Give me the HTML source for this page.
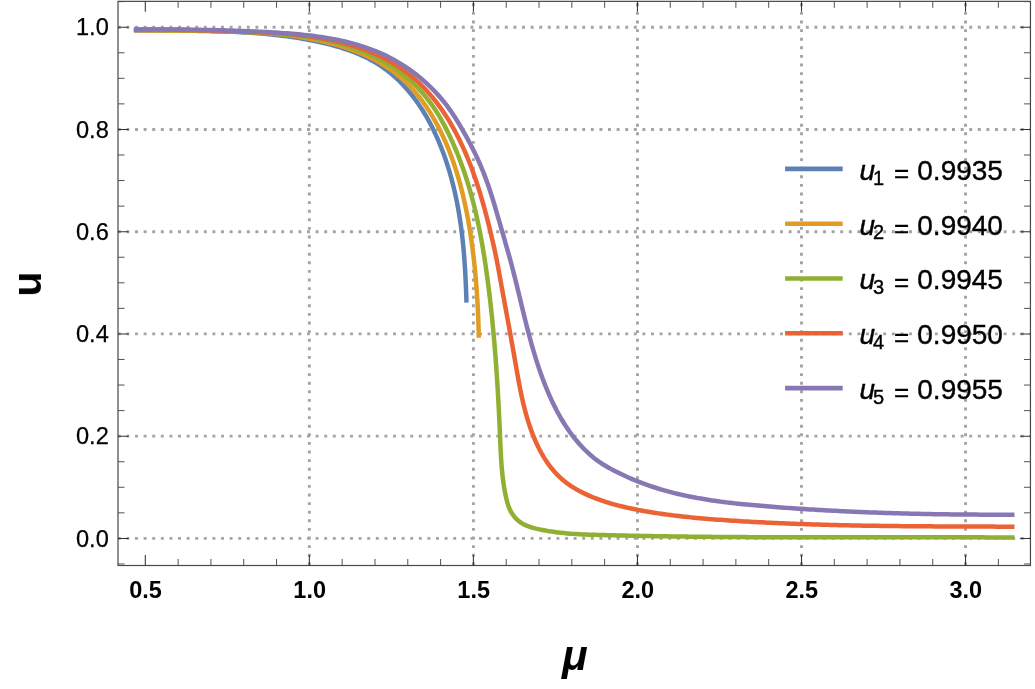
<!DOCTYPE html>
<html><head><meta charset="utf-8"><title>u vs mu</title>
<style>html,body{margin:0;padding:0;background:#fff;}body{width:1035px;height:689px;overflow:hidden;font-family:"Liberation Sans",sans-serif;}svg{display:block;}</style>
</head><body>
<svg width="1035" height="689" viewBox="0 0 1035 689">
<rect width="1035" height="689" fill="#fff"/>
<path d="M309.35,565.10V1.35M473.40,565.10V1.35M637.45,565.10V1.35M801.50,565.10V1.35M965.55,565.10V1.35M118.00,538.40H1030.45M118.00,436.16H1030.45M118.00,333.92H1030.45M118.00,231.68H1030.45M118.00,129.44H1030.45M118.00,27.20H1030.45" fill="none" stroke="#a4a4a4" stroke-width="2.9" stroke-dasharray="2.9 5.7" stroke-dashoffset="0.15"/>
<path d="M133.90,30.35 L137.35,30.40 L140.80,30.44 L144.25,30.48 L147.69,30.52 L151.14,30.54 L154.59,30.57 L158.04,30.59 L161.49,30.61 L164.94,30.63 L168.38,30.65 L171.83,30.67 L175.28,30.69 L178.73,30.71 L182.17,30.73 L185.62,30.76 L189.07,30.79 L192.51,30.82 L195.96,30.86 L199.40,30.91 L202.85,30.96 L206.29,31.02 L209.74,31.09 L213.18,31.16 L216.62,31.25 L220.06,31.35 L223.50,31.45 L226.94,31.57 L230.38,31.71 L233.82,31.85 L237.26,32.01 L240.69,32.19 L244.13,32.38 L247.56,32.58 L251.00,32.81 L254.43,33.05 L257.86,33.31 L261.29,33.59 L264.72,33.88 L268.15,34.20 L271.58,34.55 L275.00,34.91 L278.43,35.29 L281.85,35.70 L285.27,36.14 L288.70,36.60 L292.11,37.08 L295.53,37.60 L298.95,38.14 L302.36,38.70 L305.78,39.30 L309.19,39.93 L312.60,40.58 L316.01,41.27 L319.41,41.99 L322.80,42.76 L326.18,43.56 L329.55,44.40 L332.91,45.28 L336.25,46.22 L339.57,47.20 L342.87,48.23 L346.14,49.31 L349.40,50.45 L352.62,51.65 L355.82,52.91 L358.98,54.23 L362.11,55.62 L365.20,57.07 L368.26,58.59 L371.27,60.19 L374.24,61.85 L377.17,63.60 L380.05,65.42 L382.88,67.32 L385.66,69.31 L388.39,71.38 L391.06,73.54 L393.68,75.78 L396.24,78.09 L398.74,80.47 L401.19,82.92 L403.57,85.42 L405.89,87.98 L408.16,90.58 L410.36,93.23 L412.51,95.93 L414.60,98.67 L416.64,101.45 L418.62,104.27 L420.54,107.13 L422.41,110.03 L424.23,112.96 L426.00,115.93 L427.71,118.93 L429.38,121.96 L430.99,125.02 L432.56,128.10 L434.08,131.21 L435.55,134.35 L436.98,137.50 L438.36,140.68 L439.70,143.87 L441.00,147.08 L442.25,150.31 L443.46,153.55 L444.63,156.80 L445.76,160.07 L446.86,163.34 L447.91,166.62 L448.93,169.91 L449.91,173.20 L450.85,176.51 L451.76,179.82 L452.63,183.14 L453.47,186.47 L454.27,189.81 L455.04,193.15 L455.78,196.50 L456.49,199.86 L457.16,203.23 L457.80,206.61 L458.42,209.99 L459.00,213.38 L459.55,216.77 L460.08,220.17 L460.58,223.58 L461.05,227.00 L461.50,230.41 L461.92,233.84 L462.32,237.27 L462.70,240.70 L463.05,244.13 L463.38,247.57 L463.69,251.01 L463.99,254.45 L464.26,257.90 L464.52,261.34 L464.75,264.79 L464.98,268.24 L465.18,271.69 L465.38,275.13 L465.56,278.58 L465.72,282.03 L465.88,285.47 L466.02,288.91 L466.15,292.35 L466.28,295.79 L466.39,299.22 L466.50,302.65" fill="none" stroke="#5e81b5" stroke-width="4.5" stroke-linejoin="round"/>
<path d="M133.90,30.09 L137.62,30.20 L141.34,30.29 L145.06,30.37 L148.79,30.44 L152.51,30.50 L156.23,30.55 L159.96,30.59 L163.68,30.62 L167.41,30.64 L171.13,30.66 L174.86,30.68 L178.59,30.70 L182.31,30.71 L186.04,30.72 L189.76,30.73 L193.49,30.75 L197.22,30.77 L200.94,30.79 L204.67,30.82 L208.39,30.85 L212.12,30.89 L215.84,30.94 L219.57,31.01 L223.29,31.08 L227.01,31.16 L230.74,31.26 L234.46,31.37 L238.18,31.50 L241.90,31.65 L245.62,31.81 L249.34,31.99 L253.05,32.19 L256.77,32.42 L260.49,32.67 L264.20,32.94 L267.91,33.23 L271.63,33.55 L275.34,33.90 L279.05,34.28 L282.75,34.69 L286.46,35.13 L290.17,35.60 L293.87,36.10 L297.57,36.64 L301.27,37.21 L304.97,37.82 L308.67,38.47 L312.36,39.15 L316.05,39.88 L319.74,40.65 L323.41,41.46 L327.08,42.32 L330.73,43.23 L334.36,44.19 L337.98,45.20 L341.58,46.27 L345.15,47.39 L348.70,48.58 L352.22,49.82 L355.71,51.12 L359.17,52.49 L362.60,53.93 L365.98,55.43 L369.33,57.01 L372.63,58.66 L375.89,60.38 L379.11,62.18 L382.27,64.05 L385.38,66.01 L388.44,68.05 L391.44,70.17 L394.38,72.38 L397.27,74.66 L400.09,77.03 L402.85,79.47 L405.55,81.98 L408.18,84.57 L410.74,87.22 L413.24,89.95 L415.67,92.73 L418.04,95.58 L420.34,98.49 L422.58,101.46 L424.76,104.48 L426.87,107.55 L428.93,110.67 L430.92,113.84 L432.86,117.05 L434.74,120.30 L436.56,123.59 L438.33,126.92 L440.04,130.28 L441.70,133.67 L443.30,137.09 L444.86,140.53 L446.36,144.00 L447.81,147.48 L449.21,150.98 L450.57,154.50 L451.88,158.03 L453.14,161.57 L454.36,165.12 L455.53,168.67 L456.66,172.23 L457.75,175.80 L458.79,179.38 L459.80,182.96 L460.77,186.56 L461.71,190.15 L462.60,193.76 L463.47,197.37 L464.29,200.98 L465.09,204.61 L465.86,208.24 L466.59,211.87 L467.30,215.51 L467.98,219.16 L468.63,222.81 L469.26,226.47 L469.86,230.13 L470.44,233.80 L470.99,237.48 L471.53,241.15 L472.04,244.84 L472.53,248.52 L473.01,252.21 L473.46,255.91 L473.88,259.61 L474.29,263.31 L474.68,267.01 L475.05,270.72 L475.41,274.43 L475.74,278.14 L476.05,281.86 L476.35,285.57 L476.63,289.29 L476.89,293.01 L477.13,296.73 L477.36,300.46 L477.57,304.18 L477.77,307.90 L477.95,311.63 L478.12,315.36 L478.26,319.08 L478.40,322.81 L478.52,326.53 L478.63,330.25 L478.72,333.98 L478.80,337.70" fill="none" stroke="#e19c24" stroke-width="4.5" stroke-linejoin="round"/>
<path d="M133.90,29.90 L137.05,29.86 L140.20,29.83 L143.34,29.81 L146.48,29.80 L149.62,29.79 L152.75,29.79 L155.88,29.80 L159.01,29.82 L162.14,29.85 L165.26,29.88 L168.38,29.91 L171.50,29.95 L174.61,30.00 L177.73,30.06 L180.85,30.12 L183.96,30.18 L187.07,30.25 L190.19,30.32 L193.30,30.40 L196.41,30.48 L199.53,30.56 L202.64,30.65 L205.76,30.74 L208.87,30.83 L211.99,30.93 L215.11,31.03 L218.23,31.13 L221.36,31.23 L224.48,31.33 L227.61,31.43 L230.74,31.54 L233.88,31.64 L237.02,31.75 L240.16,31.86 L243.30,31.97 L246.44,32.09 L249.58,32.22 L252.73,32.35 L255.87,32.49 L259.02,32.64 L262.16,32.81 L265.31,32.98 L268.45,33.17 L271.59,33.37 L274.73,33.59 L277.87,33.83 L281.00,34.08 L284.13,34.35 L287.26,34.64 L290.39,34.95 L293.51,35.29 L296.62,35.64 L299.73,36.03 L302.84,36.44 L305.94,36.87 L309.03,37.33 L312.12,37.82 L315.20,38.35 L318.27,38.90 L321.33,39.48 L324.39,40.10 L327.44,40.76 L330.48,41.44 L333.51,42.17 L336.53,42.93 L339.54,43.74 L342.54,44.58 L345.53,45.47 L348.51,46.39 L351.48,47.36 L354.44,48.38 L357.38,49.44 L360.30,50.55 L363.21,51.70 L366.10,52.90 L368.97,54.15 L371.82,55.44 L374.65,56.79 L377.45,58.19 L380.22,59.63 L382.97,61.13 L385.68,62.68 L388.37,64.28 L391.02,65.94 L393.64,67.65 L396.22,69.42 L398.76,71.24 L401.27,73.11 L403.74,75.05 L406.16,77.04 L408.54,79.08 L410.88,81.17 L413.18,83.31 L415.43,85.50 L417.64,87.74 L419.79,90.03 L421.90,92.36 L423.97,94.74 L425.98,97.16 L427.94,99.61 L429.85,102.11 L431.71,104.65 L433.52,107.22 L435.27,109.83 L436.97,112.48 L438.61,115.15 L440.21,117.86 L441.76,120.59 L443.27,123.34 L444.74,126.11 L446.18,128.90 L447.58,131.70 L448.95,134.51 L450.30,137.33 L451.61,140.17 L452.90,143.01 L454.15,145.87 L455.38,148.74 L456.58,151.62 L457.75,154.51 L458.89,157.41 L460.01,160.32 L461.10,163.24 L462.17,166.16 L463.21,169.10 L464.23,172.05 L465.22,175.00 L466.18,177.97 L467.13,180.94 L468.05,183.92 L468.95,186.90 L469.82,189.90 L470.67,192.90 L471.51,195.91 L472.32,198.93 L473.11,201.95 L473.88,204.98 L474.63,208.01 L475.36,211.05 L476.08,214.10 L476.77,217.15 L477.45,220.21 L478.11,223.27 L478.75,226.34 L479.37,229.41 L479.98,232.48 L480.58,235.56 L481.16,238.65 L481.72,241.73 L482.27,244.82 L482.80,247.91 L483.32,251.01 L483.83,254.11 L484.33,257.21 L484.81,260.31 L485.28,263.41 L485.74,266.52 L486.19,269.63 L486.63,272.74 L487.06,275.84 L487.48,278.95 L487.89,282.06 L488.29,285.17 L488.69,288.28 L489.07,291.40 L489.45,294.51 L489.82,297.62 L490.18,300.73 L490.53,303.83 L490.88,306.94 L491.22,310.05 L491.55,313.16 L491.87,316.27 L492.19,319.38 L492.50,322.49 L492.80,325.61 L493.10,328.72 L493.39,331.83 L493.67,334.94 L493.95,338.05 L494.22,341.16 L494.49,344.27 L494.75,347.38 L495.00,350.50 L495.25,353.61 L495.49,356.72 L495.72,359.84 L495.95,362.95 L496.18,366.07 L496.40,369.18 L496.61,372.30 L496.82,375.41 L497.03,378.53 L497.22,381.65 L497.42,384.77 L497.61,387.89 L497.80,391.01 L497.98,394.13 L498.15,397.25 L498.33,400.37 L498.49,403.49 L498.66,406.62 L498.82,409.74 L498.98,412.87 L499.13,415.99 L499.28,419.12 L499.43,422.25 L499.57,425.38 L499.71,428.51 L499.85,431.64 L499.98,434.78 L500.11,437.91 L500.24,441.04 L500.37,444.18 L500.51,447.31 L500.66,450.45 L500.82,453.58 L500.99,456.71 L501.18,459.84 L501.39,462.97 L501.63,466.09 L501.89,469.21 L502.18,472.33 L502.51,475.44 L502.87,478.54 L503.27,481.64 L503.72,484.74 L504.21,487.82 L504.75,490.90 L505.35,493.97 L506.00,497.04 L506.71,500.09 L507.51,503.11 L508.46,506.09 L509.59,508.98 L510.95,511.77 L512.60,514.44 L514.52,516.94 L516.68,519.24 L519.06,521.32 L521.62,523.14 L524.34,524.67 L527.18,525.93 L530.12,526.98 L533.13,527.87 L536.18,528.64 L539.24,529.34 L542.31,529.98 L545.38,530.57 L548.46,531.10 L551.55,531.59 L554.64,532.03 L557.74,532.43 L560.84,532.79 L563.95,533.11 L567.06,533.40 L570.17,533.65 L573.29,533.88 L576.41,534.07 L579.53,534.25 L582.66,534.40 L585.78,534.54 L588.91,534.65 L592.04,534.76 L595.17,534.85 L598.30,534.94 L601.43,535.02 L604.57,535.10 L607.70,535.18 L610.83,535.26 L613.96,535.33 L617.09,535.40 L620.22,535.47 L623.35,535.54 L626.48,535.61 L629.61,535.68 L632.74,535.74 L635.87,535.80 L639.00,535.86 L642.13,535.92 L645.27,535.98 L648.40,536.04 L651.53,536.09 L654.66,536.15 L657.79,536.20 L660.92,536.25 L664.05,536.30 L667.18,536.34 L670.31,536.39 L673.43,536.43 L676.56,536.48 L679.69,536.52 L682.82,536.56 L685.95,536.60 L689.08,536.63 L692.21,536.67 L695.34,536.71 L698.47,536.74 L701.60,536.77 L704.73,536.80 L707.86,536.83 L710.99,536.86 L714.12,536.89 L717.24,536.92 L720.37,536.94 L723.50,536.97 L726.63,536.99 L729.76,537.02 L732.89,537.04 L736.02,537.06 L739.15,537.08 L742.27,537.10 L745.40,537.12 L748.53,537.13 L751.66,537.15 L754.79,537.16 L757.92,537.18 L761.05,537.19 L764.17,537.21 L767.30,537.22 L770.43,537.23 L773.56,537.24 L776.69,537.25 L779.82,537.26 L782.94,537.27 L786.07,537.27 L789.20,537.28 L792.33,537.29 L795.46,537.29 L798.59,537.30 L801.71,537.31 L804.84,537.31 L807.97,537.31 L811.10,537.32 L814.23,537.32 L817.36,537.32 L820.48,537.33 L823.61,537.33 L826.74,537.33 L829.87,537.33 L833.00,537.33 L836.13,537.33 L839.25,537.33 L842.38,537.33 L845.51,537.33 L848.64,537.33 L851.77,537.33 L854.90,537.33 L858.02,537.33 L861.15,537.32 L864.28,537.32 L867.41,537.32 L870.54,537.32 L873.67,537.32 L876.80,537.32 L879.92,537.31 L883.05,537.31 L886.18,537.31 L889.31,537.31 L892.44,537.31 L895.57,537.30 L898.70,537.30 L901.83,537.30 L904.95,537.30 L908.08,537.30 L911.21,537.30 L914.34,537.30 L917.47,537.30 L920.60,537.30 L923.73,537.30 L926.86,537.30 L929.99,537.30 L933.12,537.30 L936.25,537.30 L939.37,537.30 L942.50,537.30 L945.63,537.30 L948.76,537.31 L951.89,537.31 L955.02,537.31 L958.15,537.32 L961.28,537.32 L964.41,537.33 L967.54,537.33 L970.67,537.34 L973.80,537.35 L976.93,537.35 L980.06,537.36 L983.19,537.37 L986.32,537.38 L989.45,537.39 L992.58,537.40 L995.71,537.41 L998.85,537.43 L1001.98,537.44 L1005.11,537.45 L1008.24,537.47 L1011.37,537.48 L1014.50,537.50" fill="none" stroke="#8fb032" stroke-width="4.5" stroke-linejoin="round"/>
<path d="M133.90,29.65 L136.89,29.62 L139.87,29.59 L142.85,29.57 L145.83,29.56 L148.81,29.55 L151.79,29.55 L154.76,29.56 L157.73,29.58 L160.70,29.60 L163.66,29.62 L166.63,29.65 L169.59,29.69 L172.56,29.73 L175.52,29.78 L178.48,29.83 L181.44,29.88 L184.40,29.94 L187.36,30.01 L190.32,30.07 L193.28,30.14 L196.24,30.21 L199.19,30.29 L202.15,30.37 L205.12,30.45 L208.08,30.53 L211.04,30.61 L214.00,30.70 L216.97,30.78 L219.93,30.87 L222.90,30.96 L225.87,31.05 L228.84,31.14 L231.82,31.23 L234.79,31.31 L237.77,31.41 L240.75,31.50 L243.73,31.59 L246.71,31.69 L249.69,31.80 L252.68,31.91 L255.66,32.03 L258.64,32.15 L261.62,32.29 L264.61,32.43 L267.59,32.59 L270.57,32.75 L273.55,32.93 L276.52,33.12 L279.50,33.33 L282.47,33.55 L285.44,33.78 L288.41,34.03 L291.38,34.30 L294.34,34.59 L297.30,34.90 L300.25,35.23 L303.20,35.58 L306.15,35.95 L309.09,36.34 L312.03,36.76 L314.96,37.21 L317.89,37.68 L320.82,38.17 L323.73,38.69 L326.64,39.25 L329.55,39.83 L332.45,40.44 L335.34,41.08 L338.22,41.76 L341.10,42.46 L343.97,43.21 L346.83,43.98 L349.69,44.80 L352.53,45.64 L355.37,46.53 L358.20,47.45 L361.01,48.42 L363.81,49.42 L366.59,50.47 L369.36,51.55 L372.11,52.68 L374.84,53.86 L377.55,55.07 L380.24,56.34 L382.90,57.65 L385.54,59.00 L388.16,60.41 L390.74,61.86 L393.30,63.36 L395.83,64.92 L398.32,66.52 L400.78,68.18 L403.21,69.89 L405.60,71.65 L407.96,73.46 L410.28,75.32 L412.57,77.23 L414.82,79.18 L417.03,81.17 L419.21,83.21 L421.35,85.29 L423.46,87.41 L425.52,89.57 L427.55,91.76 L429.54,93.99 L431.49,96.25 L433.41,98.54 L435.28,100.87 L437.11,103.22 L438.91,105.61 L440.66,108.01 L442.37,110.45 L444.05,112.91 L445.68,115.39 L447.27,117.89 L448.83,120.41 L450.35,122.96 L451.84,125.52 L453.30,128.10 L454.72,130.70 L456.12,133.31 L457.48,135.94 L458.82,138.59 L460.13,141.25 L461.40,143.93 L462.66,146.61 L463.88,149.32 L465.08,152.03 L466.25,154.76 L467.40,157.50 L468.52,160.25 L469.62,163.01 L470.69,165.78 L471.75,168.56 L472.78,171.36 L473.78,174.16 L474.77,176.96 L475.74,179.78 L476.68,182.60 L477.61,185.43 L478.52,188.27 L479.41,191.11 L480.28,193.96 L481.13,196.81 L481.97,199.66 L482.80,202.52 L483.60,205.38 L484.40,208.25 L485.17,211.12 L485.94,213.98 L486.69,216.85 L487.43,219.73 L488.16,222.60 L488.88,225.48 L489.59,228.36 L490.29,231.24 L490.98,234.12 L491.67,237.01 L492.35,239.90 L493.01,242.79 L493.67,245.69 L494.31,248.59 L494.94,251.49 L495.56,254.40 L496.16,257.31 L496.75,260.22 L497.32,263.14 L497.88,266.06 L498.43,268.98 L498.97,271.91 L499.50,274.84 L500.03,277.76 L500.56,280.69 L501.09,283.61 L501.62,286.54 L502.15,289.46 L502.69,292.38 L503.22,295.30 L503.75,298.22 L504.29,301.14 L504.82,304.05 L505.36,306.97 L505.89,309.89 L506.43,312.81 L506.96,315.72 L507.50,318.64 L508.03,321.56 L508.56,324.47 L509.09,327.39 L509.62,330.31 L510.15,333.23 L510.68,336.15 L511.21,339.07 L511.74,341.99 L512.26,344.91 L512.78,347.84 L513.30,350.76 L513.82,353.69 L514.34,356.62 L514.85,359.55 L515.36,362.48 L515.87,365.42 L516.38,368.35 L516.90,371.29 L517.42,374.22 L517.94,377.16 L518.48,380.09 L519.02,383.02 L519.58,385.94 L520.15,388.87 L520.74,391.78 L521.35,394.70 L521.98,397.61 L522.62,400.51 L523.30,403.40 L524.00,406.29 L524.72,409.17 L525.48,412.05 L526.27,414.91 L527.09,417.76 L527.94,420.60 L528.84,423.44 L529.77,426.26 L530.74,429.07 L531.76,431.86 L532.82,434.64 L533.93,437.41 L535.09,440.16 L536.30,442.89 L537.56,445.60 L538.87,448.28 L540.24,450.93 L541.67,453.54 L543.15,456.12 L544.70,458.65 L546.31,461.14 L547.98,463.58 L549.72,465.96 L551.53,468.29 L553.41,470.55 L555.36,472.75 L557.38,474.88 L559.47,476.94 L561.65,478.93 L563.90,480.83 L566.22,482.65 L568.62,484.40 L571.08,486.06 L573.60,487.66 L576.17,489.18 L578.78,490.64 L581.44,492.04 L584.12,493.37 L586.83,494.64 L589.56,495.85 L592.30,497.02 L595.07,498.12 L597.85,499.18 L600.64,500.19 L603.46,501.16 L606.28,502.08 L609.12,502.95 L611.97,503.79 L614.83,504.59 L617.70,505.36 L620.58,506.09 L623.47,506.79 L626.37,507.46 L629.27,508.10 L632.18,508.72 L635.09,509.31 L638.01,509.89 L640.92,510.44 L643.85,510.97 L646.77,511.49 L649.70,511.99 L652.63,512.47 L655.56,512.94 L658.49,513.38 L661.43,513.82 L664.37,514.23 L667.31,514.63 L670.25,515.02 L673.20,515.39 L676.14,515.75 L679.09,516.10 L682.04,516.44 L684.99,516.76 L687.95,517.07 L690.90,517.37 L693.86,517.66 L696.81,517.93 L699.77,518.20 L702.73,518.46 L705.69,518.71 L708.65,518.96 L711.62,519.19 L714.58,519.42 L717.54,519.64 L720.50,519.85 L723.47,520.06 L726.43,520.27 L729.40,520.46 L732.36,520.66 L735.33,520.85 L738.29,521.03 L741.26,521.21 L744.23,521.39 L747.19,521.56 L750.16,521.73 L753.13,521.89 L756.09,522.05 L759.06,522.21 L762.03,522.36 L764.99,522.51 L767.96,522.66 L770.93,522.80 L773.90,522.94 L776.86,523.07 L779.83,523.20 L782.80,523.33 L785.77,523.45 L788.74,523.57 L791.70,523.69 L794.67,523.80 L797.64,523.91 L800.61,524.02 L803.58,524.12 L806.55,524.22 L809.52,524.32 L812.49,524.42 L815.46,524.51 L818.43,524.60 L821.40,524.68 L824.37,524.77 L827.34,524.85 L830.31,524.93 L833.28,525.00 L836.25,525.08 L839.22,525.15 L842.19,525.21 L845.16,525.28 L848.13,525.34 L851.10,525.40 L854.07,525.46 L857.04,525.52 L860.01,525.57 L862.98,525.63 L865.95,525.68 L868.92,525.72 L871.89,525.77 L874.87,525.81 L877.84,525.86 L880.81,525.90 L883.78,525.94 L886.75,525.97 L889.72,526.01 L892.69,526.04 L895.66,526.07 L898.64,526.11 L901.61,526.13 L904.58,526.16 L907.55,526.19 L910.52,526.22 L913.49,526.24 L916.46,526.26 L919.44,526.28 L922.41,526.31 L925.38,526.33 L928.35,526.34 L931.32,526.36 L934.29,526.38 L937.26,526.40 L940.23,526.41 L943.21,526.43 L946.18,526.44 L949.15,526.45 L952.12,526.47 L955.09,526.48 L958.06,526.49 L961.03,526.50 L964.00,526.51 L966.97,526.52 L969.95,526.54 L972.92,526.55 L975.89,526.56 L978.86,526.57 L981.83,526.58 L984.80,526.59 L987.77,526.60 L990.74,526.61 L993.71,526.62 L996.68,526.63 L999.65,526.64 L1002.62,526.65 L1005.59,526.66 L1008.56,526.67 L1011.53,526.69 L1014.50,526.70" fill="none" stroke="#eb6235" stroke-width="4.5" stroke-linejoin="round"/>
<path d="M133.90,29.40 L136.79,29.40 L139.67,29.41 L142.56,29.41 L145.44,29.42 L148.32,29.42 L151.21,29.43 L154.09,29.43 L156.98,29.44 L159.86,29.45 L162.75,29.46 L165.63,29.47 L168.51,29.49 L171.40,29.50 L174.28,29.52 L177.17,29.54 L180.05,29.57 L182.93,29.59 L185.82,29.62 L188.70,29.66 L191.59,29.69 L194.47,29.73 L197.36,29.78 L200.24,29.83 L203.13,29.88 L206.01,29.93 L208.89,29.99 L211.78,30.06 L214.66,30.13 L217.55,30.20 L220.43,30.27 L223.32,30.35 L226.20,30.44 L229.08,30.53 L231.97,30.62 L234.85,30.72 L237.73,30.82 L240.62,30.93 L243.50,31.04 L246.38,31.16 L249.26,31.28 L252.14,31.41 L255.03,31.54 L257.91,31.68 L260.79,31.82 L263.67,31.96 L266.55,32.12 L269.42,32.27 L272.30,32.43 L275.18,32.60 L278.06,32.78 L280.93,32.96 L283.81,33.16 L286.69,33.36 L289.56,33.58 L292.43,33.80 L295.31,34.05 L298.18,34.30 L301.05,34.58 L303.93,34.87 L306.80,35.17 L309.67,35.50 L312.54,35.85 L315.41,36.22 L318.28,36.61 L321.14,37.02 L324.00,37.46 L326.86,37.93 L329.71,38.41 L332.56,38.93 L335.40,39.47 L338.23,40.05 L341.06,40.65 L343.88,41.28 L346.69,41.95 L349.48,42.64 L352.27,43.37 L355.05,44.14 L357.82,44.94 L360.57,45.78 L363.31,46.65 L366.04,47.56 L368.75,48.52 L371.45,49.51 L374.13,50.54 L376.80,51.61 L379.45,52.73 L382.07,53.89 L384.69,55.10 L387.28,56.35 L389.85,57.65 L392.40,59.00 L394.93,60.39 L397.44,61.83 L399.92,63.31 L402.38,64.83 L404.81,66.40 L407.22,68.01 L409.60,69.67 L411.96,71.36 L414.28,73.10 L416.58,74.87 L418.85,76.68 L421.08,78.54 L423.28,80.42 L425.46,82.35 L427.59,84.31 L429.70,86.31 L431.76,88.34 L433.80,90.40 L435.79,92.50 L437.75,94.63 L439.67,96.79 L441.55,98.99 L443.39,101.21 L445.19,103.46 L446.94,105.74 L448.66,108.05 L450.33,110.39 L451.96,112.75 L453.54,115.14 L455.09,117.55 L456.61,119.98 L458.11,122.43 L459.58,124.89 L461.03,127.37 L462.47,129.86 L463.90,132.36 L465.32,134.88 L466.72,137.40 L468.11,139.94 L469.47,142.48 L470.82,145.04 L472.15,147.61 L473.46,150.19 L474.74,152.78 L476.00,155.39 L477.23,158.01 L478.43,160.63 L479.60,163.28 L480.74,165.93 L481.86,168.59 L482.94,171.27 L484.00,173.95 L485.04,176.65 L486.05,179.35 L487.03,182.06 L487.99,184.78 L488.94,187.51 L489.86,190.24 L490.76,192.98 L491.64,195.72 L492.51,198.47 L493.36,201.23 L494.20,203.98 L495.03,206.74 L495.84,209.51 L496.65,212.28 L497.45,215.05 L498.25,217.82 L499.05,220.59 L499.84,223.36 L500.63,226.13 L501.42,228.91 L502.21,231.68 L503.01,234.45 L503.81,237.22 L504.61,239.99 L505.41,242.76 L506.21,245.53 L507.01,248.30 L507.80,251.08 L508.58,253.85 L509.35,256.63 L510.12,259.41 L510.87,262.20 L511.62,264.98 L512.35,267.77 L513.07,270.56 L513.79,273.36 L514.50,276.16 L515.20,278.96 L515.90,281.76 L516.59,284.56 L517.27,287.36 L517.95,290.17 L518.63,292.97 L519.31,295.78 L519.99,298.58 L520.67,301.39 L521.34,304.19 L522.02,307.00 L522.70,309.80 L523.38,312.60 L524.07,315.41 L524.76,318.21 L525.46,321.00 L526.16,323.80 L526.87,326.60 L527.59,329.39 L528.32,332.18 L529.05,334.96 L529.80,337.75 L530.56,340.53 L531.33,343.30 L532.11,346.08 L532.90,348.85 L533.71,351.61 L534.54,354.37 L535.38,357.12 L536.23,359.87 L537.11,362.62 L538.00,365.36 L538.91,368.09 L539.84,370.81 L540.80,373.54 L541.77,376.25 L542.77,378.96 L543.79,381.66 L544.83,384.35 L545.90,387.03 L546.99,389.71 L548.11,392.38 L549.26,395.04 L550.44,397.68 L551.64,400.31 L552.88,402.93 L554.15,405.53 L555.44,408.12 L556.78,410.69 L558.14,413.23 L559.54,415.76 L560.98,418.26 L562.45,420.74 L563.96,423.20 L565.51,425.62 L567.09,428.02 L568.72,430.40 L570.39,432.74 L572.10,435.05 L573.85,437.33 L575.65,439.57 L577.49,441.78 L579.38,443.95 L581.31,446.08 L583.30,448.18 L585.33,450.23 L587.40,452.23 L589.53,454.18 L591.70,456.07 L593.92,457.91 L596.20,459.68 L598.52,461.38 L600.89,463.00 L603.31,464.55 L605.77,466.03 L608.26,467.46 L610.78,468.85 L613.32,470.21 L615.88,471.54 L618.46,472.83 L621.05,474.10 L623.66,475.34 L626.28,476.55 L628.93,477.73 L631.58,478.88 L634.25,480.00 L636.93,481.09 L639.62,482.16 L642.32,483.19 L645.03,484.19 L647.75,485.16 L650.48,486.10 L653.22,487.01 L655.96,487.90 L658.71,488.75 L661.47,489.58 L664.23,490.38 L667.00,491.15 L669.78,491.90 L672.56,492.62 L675.35,493.32 L678.15,493.99 L680.95,494.64 L683.75,495.27 L686.56,495.88 L689.38,496.46 L692.20,497.02 L695.02,497.56 L697.85,498.09 L700.69,498.59 L703.53,499.08 L706.37,499.54 L709.21,499.99 L712.06,500.43 L714.92,500.84 L717.77,501.25 L720.63,501.63 L723.49,502.01 L726.36,502.37 L729.22,502.71 L732.09,503.05 L734.96,503.37 L737.84,503.68 L740.71,503.98 L743.59,504.28 L746.47,504.56 L749.34,504.83 L752.22,505.10 L755.11,505.36 L757.99,505.61 L760.87,505.85 L763.75,506.09 L766.63,506.33 L769.51,506.56 L772.40,506.79 L775.28,507.01 L778.16,507.23 L781.04,507.44 L783.92,507.66 L786.80,507.87 L789.68,508.07 L792.56,508.27 L795.44,508.47 L798.32,508.66 L801.20,508.85 L804.08,509.04 L806.96,509.22 L809.84,509.40 L812.72,509.58 L815.60,509.75 L818.48,509.92 L821.36,510.08 L824.24,510.25 L827.12,510.41 L830.00,510.56 L832.88,510.71 L835.76,510.86 L838.63,511.01 L841.51,511.15 L844.39,511.29 L847.27,511.43 L850.15,511.56 L853.03,511.69 L855.91,511.82 L858.79,511.94 L861.67,512.06 L864.54,512.18 L867.42,512.29 L870.30,512.40 L873.18,512.51 L876.06,512.62 L878.94,512.72 L881.82,512.82 L884.70,512.91 L887.58,513.01 L890.46,513.10 L893.34,513.19 L896.22,513.27 L899.10,513.35 L901.98,513.43 L904.86,513.51 L907.74,513.59 L910.62,513.66 L913.50,513.73 L916.38,513.79 L919.26,513.86 L922.14,513.92 L925.03,513.98 L927.91,514.03 L930.79,514.09 L933.67,514.14 L936.55,514.18 L939.44,514.23 L942.32,514.27 L945.20,514.32 L948.09,514.35 L950.97,514.39 L953.85,514.43 L956.74,514.46 L959.62,514.49 L962.51,514.51 L965.39,514.54 L968.28,514.56 L971.16,514.58 L974.05,514.60 L976.94,514.62 L979.82,514.63 L982.71,514.65 L985.60,514.66 L988.49,514.66 L991.38,514.67 L994.27,514.67 L997.16,514.68 L1000.04,514.68 L1002.94,514.67 L1005.83,514.67 L1008.72,514.67 L1011.61,514.66 L1014.50,514.65" fill="none" stroke="#8778b3" stroke-width="4.5" stroke-linejoin="round"/>
<rect x="118.0" y="1.35" width="912.45" height="564.15" fill="none" stroke="#484848" stroke-width="1.2"/>
<path d="M145.30,565.5v-10.5M145.30,1.35v10.5M309.35,565.5v-10.5M309.35,1.35v10.5M473.40,565.5v-10.5M473.40,1.35v10.5M637.45,565.5v-10.5M637.45,1.35v10.5M801.50,565.5v-10.5M801.50,1.35v10.5M965.55,565.5v-10.5M965.55,1.35v10.5M118.0,538.40h10.5M1030.45,538.40h-10.5M118.0,436.16h10.5M1030.45,436.16h-10.5M118.0,333.92h10.5M1030.45,333.92h-10.5M118.0,231.68h10.5M1030.45,231.68h-10.5M118.0,129.44h10.5M1030.45,129.44h-10.5M118.0,27.20h10.5M1030.45,27.20h-10.5" fill="none" stroke="#333" stroke-width="1.05"/>
<path d="M178.11,565.5v-6.5M178.11,1.35v6.5M210.92,565.5v-6.5M210.92,1.35v6.5M243.73,565.5v-6.5M243.73,1.35v6.5M276.54,565.5v-6.5M276.54,1.35v6.5M342.16,565.5v-6.5M342.16,1.35v6.5M374.97,565.5v-6.5M374.97,1.35v6.5M407.78,565.5v-6.5M407.78,1.35v6.5M440.59,565.5v-6.5M440.59,1.35v6.5M506.21,565.5v-6.5M506.21,1.35v6.5M539.02,565.5v-6.5M539.02,1.35v6.5M571.83,565.5v-6.5M571.83,1.35v6.5M604.64,565.5v-6.5M604.64,1.35v6.5M670.26,565.5v-6.5M670.26,1.35v6.5M703.07,565.5v-6.5M703.07,1.35v6.5M735.88,565.5v-6.5M735.88,1.35v6.5M768.69,565.5v-6.5M768.69,1.35v6.5M834.31,565.5v-6.5M834.31,1.35v6.5M867.12,565.5v-6.5M867.12,1.35v6.5M899.93,565.5v-6.5M899.93,1.35v6.5M932.74,565.5v-6.5M932.74,1.35v6.5M998.36,565.5v-6.5M998.36,1.35v6.5M118.0,563.96h6.5M1030.45,563.96h-6.5M118.0,512.84h6.5M1030.45,512.84h-6.5M118.0,487.28h6.5M1030.45,487.28h-6.5M118.0,461.72h6.5M1030.45,461.72h-6.5M118.0,410.60h6.5M1030.45,410.60h-6.5M118.0,385.04h6.5M1030.45,385.04h-6.5M118.0,359.48h6.5M1030.45,359.48h-6.5M118.0,308.36h6.5M1030.45,308.36h-6.5M118.0,282.80h6.5M1030.45,282.80h-6.5M118.0,257.24h6.5M1030.45,257.24h-6.5M118.0,206.12h6.5M1030.45,206.12h-6.5M118.0,180.56h6.5M1030.45,180.56h-6.5M118.0,155.00h6.5M1030.45,155.00h-6.5M118.0,103.88h6.5M1030.45,103.88h-6.5M118.0,78.32h6.5M1030.45,78.32h-6.5M118.0,52.76h6.5M1030.45,52.76h-6.5M118.0,1.64h6.5M1030.45,1.64h-6.5" fill="none" stroke="#4a4a4a" stroke-width="0.95"/>
<g opacity="0.999">
<g font-family="Liberation Sans, sans-serif" font-size="23.6" fill="#000" stroke="#000" stroke-width="0.25" text-anchor="end">
<text x="108.8" y="546.50">0.0</text>
<text x="108.8" y="444.26">0.2</text>
<text x="108.8" y="342.02">0.4</text>
<text x="108.8" y="239.78">0.6</text>
<text x="108.8" y="137.54">0.8</text>
<text x="108.8" y="35.30">1.0</text>
</g>
<g font-family="Liberation Sans, sans-serif" font-size="23.5" font-weight="bold" fill="#000" text-anchor="middle">
<text x="145.60" y="598.2">0.5</text>
<text x="309.65" y="598.2">1.0</text>
<text x="473.70" y="598.2">1.5</text>
<text x="637.75" y="598.2">2.0</text>
<text x="801.80" y="598.2">2.5</text>
<text x="965.85" y="598.2">3.0</text>
</g>
<text x="574.9" y="669.9" font-family="Liberation Sans, sans-serif" font-size="42.5" font-weight="bold" font-style="italic" text-anchor="middle">μ</text>
<text transform="translate(41.0,284.1) rotate(-90)" font-family="Liberation Sans, sans-serif" font-size="41" font-weight="bold" text-anchor="middle">u</text>
<path d="M785.1,168.90H842.7" stroke="#5e81b5" stroke-width="4.6" fill="none"/>
<g font-family="Liberation Sans, sans-serif" fill="#000" stroke="#000" stroke-width="0.4"><text x="859.5" y="179.80" font-size="28" font-style="italic">u</text><text x="873.1" y="184.60" font-size="20">1</text><text x="901.6" y="181.80" font-size="26" text-anchor="middle">=</text><text x="917.3" y="179.80" font-size="28">0.9935</text></g>
<path d="M785.1,223.70H842.7" stroke="#e19c24" stroke-width="4.6" fill="none"/>
<g font-family="Liberation Sans, sans-serif" fill="#000" stroke="#000" stroke-width="0.4"><text x="859.5" y="234.60" font-size="28" font-style="italic">u</text><text x="873.1" y="239.40" font-size="20">2</text><text x="901.6" y="236.60" font-size="26" text-anchor="middle">=</text><text x="917.3" y="234.60" font-size="28">0.9940</text></g>
<path d="M785.1,278.50H842.7" stroke="#8fb032" stroke-width="4.6" fill="none"/>
<g font-family="Liberation Sans, sans-serif" fill="#000" stroke="#000" stroke-width="0.4"><text x="859.5" y="289.40" font-size="28" font-style="italic">u</text><text x="873.1" y="294.20" font-size="20">3</text><text x="901.6" y="291.40" font-size="26" text-anchor="middle">=</text><text x="917.3" y="289.40" font-size="28">0.9945</text></g>
<path d="M785.1,333.30H842.7" stroke="#eb6235" stroke-width="4.6" fill="none"/>
<g font-family="Liberation Sans, sans-serif" fill="#000" stroke="#000" stroke-width="0.4"><text x="859.5" y="344.20" font-size="28" font-style="italic">u</text><text x="873.1" y="349.00" font-size="20">4</text><text x="901.6" y="346.20" font-size="26" text-anchor="middle">=</text><text x="917.3" y="344.20" font-size="28">0.9950</text></g>
<path d="M785.1,388.10H842.7" stroke="#8778b3" stroke-width="4.6" fill="none"/>
<g font-family="Liberation Sans, sans-serif" fill="#000" stroke="#000" stroke-width="0.4"><text x="859.5" y="399.00" font-size="28" font-style="italic">u</text><text x="873.1" y="403.80" font-size="20">5</text><text x="901.6" y="401.00" font-size="26" text-anchor="middle">=</text><text x="917.3" y="399.00" font-size="28">0.9955</text></g>
</g>
</svg>
</body></html>
